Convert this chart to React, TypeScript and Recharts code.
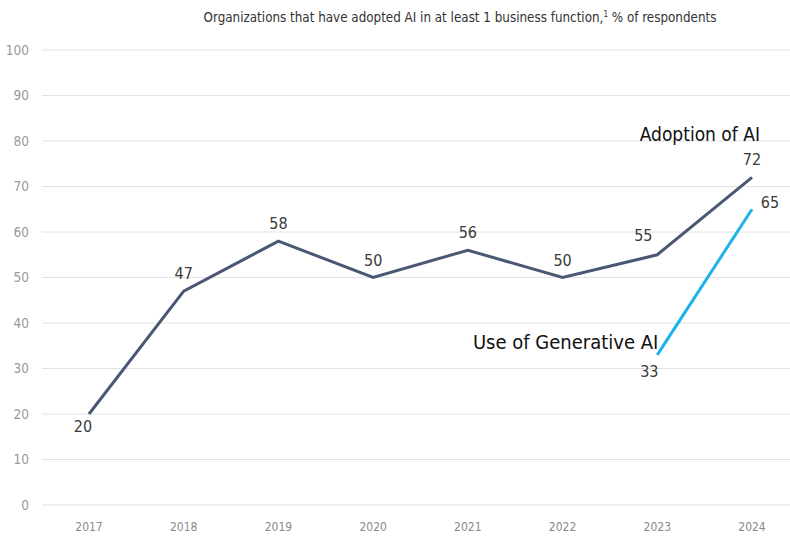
import { LineChart, Line, XAxis, YAxis, CartesianGrid, LabelList } from "recharts";

const years = ["2017", "2018", "2019", "2020", "2021", "2022", "2023", "2024"];
const adoptionOfAI = [20, 47, 58, 50, 56, 50, 55, 72];
const useOfGenAI = [null, null, null, null, null, null, 33, 65];
const yTicks = [0, 10, 20, 30, 40, 50, 60, 70, 80, 90, 100];

const data = years.map((year, i) => ({
  year,
  adoption: adoptionOfAI[i],
  genai: useOfGenAI[i],
}));

const FONT = '"Liberation Sans Narrow", "DejaVu Sans Condensed", "Liberation Sans", sans-serif';
const LABEL_COLOR = "#3a3a3a";

// value labels for the main line, plus the series name above the last point
const adoptionLabel = (props: any) => {
  const { x, y, value, index } = props;
  let lx = x;
  let ly = y - 12;
  if (index === 0) {
    lx = x - 6;
    ly = y + 18;
  } else if (index === 6) {
    lx = x - 14;
    ly = y - 14;
  }
  return (
    <g key={`a-${index}`}>
      <text x={lx} y={ly} textAnchor="middle" fontSize={16} fill={LABEL_COLOR} fontFamily={FONT}>
        {value}
      </text>
      {index === years.length - 1 && (
        <text x={x + 8} y={y - 36} textAnchor="end" fontSize={19} fill="#111" fontFamily={FONT}>
          Adoption of AI
        </text>
      )}
    </g>
  );
};

const genaiLabel = (props: any) => {
  const { x, y, value, index } = props;
  if (value == null) return null;
  const last = index === years.length - 1;
  return (
    <g key={`g-${index}`}>
      <text
        x={last ? x + 18 : x - 8}
        y={last ? y - 1 : y + 22}
        textAnchor="middle"
        fontSize={16}
        fill={LABEL_COLOR}
        fontFamily={FONT}
      >
        {value}
      </text>
      {!last && (
        <text x={x + 1} y={y - 6} textAnchor="end" fontSize={20} fill="#111" fontFamily={FONT}>
          Use of Generative AI
        </text>
      )}
    </g>
  );
};

export default function App() {
  return (
    <div style={{ position: "absolute", left: 0, top: 0, width: 790, height: 536, background: "#fff" }}>
      <div
        style={{
          position: "absolute",
          top: 10,
          left: 130,
          width: 660,
          textAlign: "center",
          fontFamily: FONT,
          fontSize: 13.3,
          color: "#333",
        }}
      >
        Organizations that have adopted AI in at least 1 business function,<sup style={{ fontSize: 8 }}>1</sup> % of respondents
      </div>
      <LineChart width={790} height={536} data={data} margin={{ top: 50, right: 0, bottom: 6, left: 0 }}>
        <CartesianGrid vertical={false} stroke="#e2e2e2" strokeWidth={1} />
        <XAxis
          dataKey="year"
          axisLine={false}
          tickLine={false}
          padding={{ left: 47, right: 38 }}
          height={25}
          tickMargin={11}
          tick={{ fontSize: 12, fill: "#8a8a8a", fontFamily: FONT }}
        />
        <YAxis
          domain={[0, 100]}
          ticks={yTicks}
          axisLine={false}
          tickLine={false}
          width={42}
          tickMargin={7}
          tick={{ fontSize: 13.5, fill: "#999", fontFamily: FONT }}
        />
        <Line
          dataKey="adoption"
          stroke="#4a5874"
          strokeWidth={3}
          dot={false}
          isAnimationActive={false}
        >
          <LabelList dataKey="adoption" content={adoptionLabel} />
        </Line>
        <Line
          dataKey="genai"
          stroke="#1eb2ea"
          strokeWidth={3}
          dot={false}
          connectNulls={false}
          isAnimationActive={false}
        >
          <LabelList dataKey="genai" content={genaiLabel} />
        </Line>
      </LineChart>
    </div>
  );
}
